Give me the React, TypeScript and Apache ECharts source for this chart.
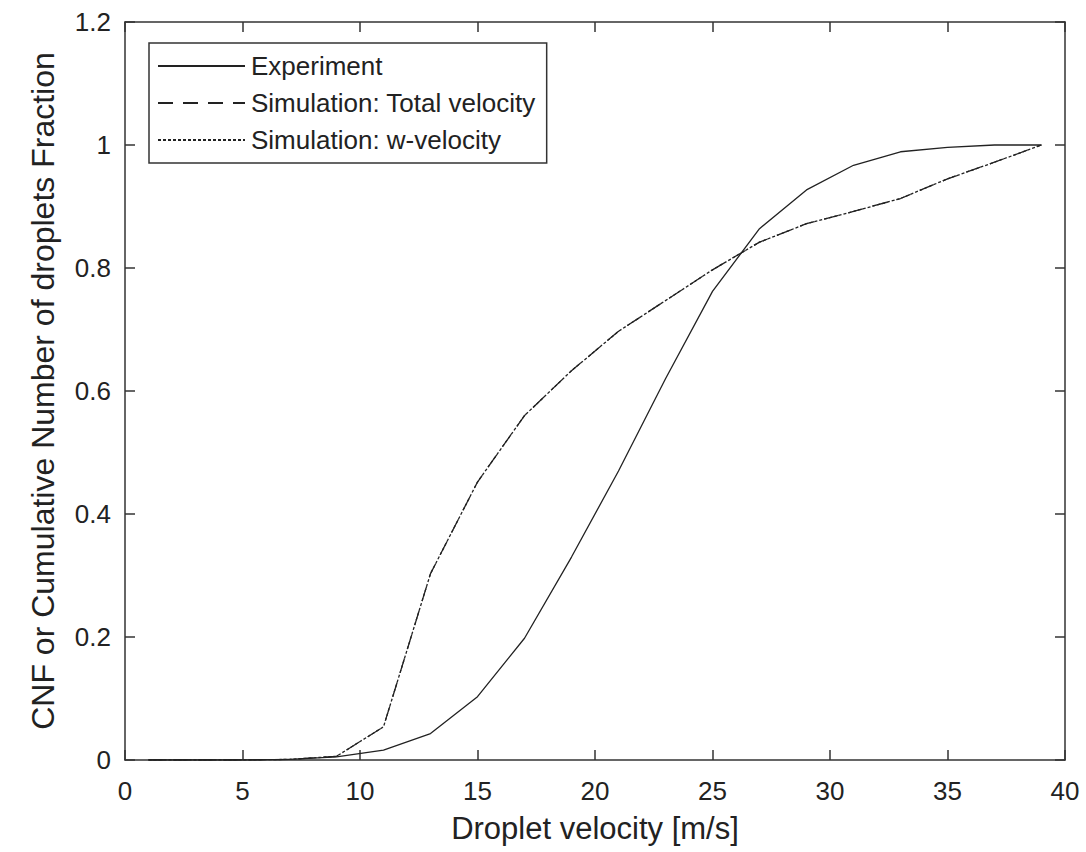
import React, { useEffect, useRef } from "react";
import * as echarts from "echarts";

const velocity = [1, 3, 5, 7, 9, 11, 13, 15, 17, 19, 21, 23, 25, 27, 29, 31, 33, 35, 37, 39];
const experiment = [0, 0, 0, 0.001, 0.005, 0.016, 0.043, 0.103, 0.198, 0.33, 0.47, 0.62, 0.762, 0.864, 0.927, 0.967, 0.989, 0.996, 1.0, 1.0];
const simTotal = [0, 0, 0, 0.001, 0.006, 0.054, 0.303, 0.452, 0.56, 0.633, 0.697, 0.747, 0.797, 0.842, 0.872, 0.892, 0.913, 0.945, 0.972, 1.0];
const simW = [0, 0, 0, 0.001, 0.006, 0.054, 0.303, 0.452, 0.56, 0.633, 0.697, 0.747, 0.797, 0.842, 0.872, 0.892, 0.913, 0.945, 0.972, 1.0];
const seriesNames = ["Experiment", "Simulation: Total velocity", "Simulation: w-velocity"];

const FONT = "Liberation Sans, Arial, Helvetica, sans-serif";
const INK = "#222";

export default function App() {
  const ref = useRef<HTMLDivElement>(null);
  useEffect(() => {
    if (!ref.current) return;
    const chart = echarts.init(ref.current, undefined, { renderer: "svg" });
    const pair = (ys: number[]) => velocity.map((x, i) => [x, ys[i]]);
    const axisCommon = {
      axisLine: { show: true, onZero: false, lineStyle: { color: "#333", width: 1.5 } },
      axisTick: { show: true, inside: true, length: 10, lineStyle: { color: "#333", width: 1.5 } },
      splitLine: { show: false },
    };
    chart.setOption({
      animation: false,
      backgroundColor: "#fff",
      textStyle: { fontFamily: FONT },
      grid: { left: 125, right: 21, top: 22, bottom: 92, containLabel: false },
      legend: {
        orient: "vertical",
        left: 149,
        top: 43,
        data: seriesNames,
        itemWidth: 87,
        itemHeight: 25,
        itemGap: 11,
        padding: [10, 11, 10, 8],
        borderColor: "#333",
        borderWidth: 1.5,
        backgroundColor: "#fff",
        itemStyle: { opacity: 0, borderWidth: 0 },
        textStyle: { fontFamily: FONT, fontSize: 26, color: INK, padding: [0, 0, 0, 1] },
      },
      xAxis: [
        {
          type: "value",
          min: 0,
          max: 40,
          interval: 5,
          position: "bottom",
          name: "Droplet velocity [m/s]",
          nameLocation: "middle",
          nameGap: 53,
          nameTextStyle: { fontFamily: FONT, fontSize: 31, color: INK },
          axisLabel: { fontFamily: FONT, fontSize: 26, color: INK, margin: 18 },
          ...axisCommon,
        },
        {
          type: "value",
          min: 0,
          max: 40,
          interval: 5,
          position: "top",
          axisLabel: { show: false },
          ...axisCommon,
        },
      ],
      yAxis: [
        {
          type: "value",
          min: 0,
          max: 1.2,
          interval: 0.2,
          position: "left",
          name: "CNF or Cumulative Number of droplets Fraction",
          nameLocation: "middle",
          nameGap: 66,
          nameTextStyle: { fontFamily: FONT, fontSize: 32, color: INK },
          axisLabel: {
            fontFamily: FONT,
            fontSize: 26,
            color: INK,
            margin: 14,
            formatter: (v: number) => (Math.abs(v) < 1e-9 ? "0" : String(Math.round(v * 10) / 10)),
          },
          ...axisCommon,
        },
        {
          type: "value",
          min: 0,
          max: 1.2,
          interval: 0.2,
          position: "right",
          axisLabel: { show: false },
          ...axisCommon,
        },
      ],
      series: [
        {
          name: seriesNames[0],
          type: "line",
          data: pair(experiment),
          showSymbol: false,
          symbol: "none",
          itemStyle: { color: INK },
          lineStyle: { color: INK, width: 1.3, type: "solid" },
        },
        {
          name: seriesNames[1],
          type: "line",
          data: pair(simTotal),
          showSymbol: false,
          symbol: "none",
          itemStyle: { color: INK },
          lineStyle: { color: INK, width: 1.3, type: [15, 10] },
        },
        {
          name: seriesNames[2],
          type: "line",
          data: pair(simW),
          showSymbol: false,
          symbol: "none",
          itemStyle: { color: INK },
          lineStyle: { color: INK, width: 1.3, type: [3, 2] },
        },
      ],
    });
    return () => chart.dispose();
  }, []);
  return <div ref={ref} style={{ width: 1086, height: 852, position: "absolute", left: 0, top: 0 }} />;
}
